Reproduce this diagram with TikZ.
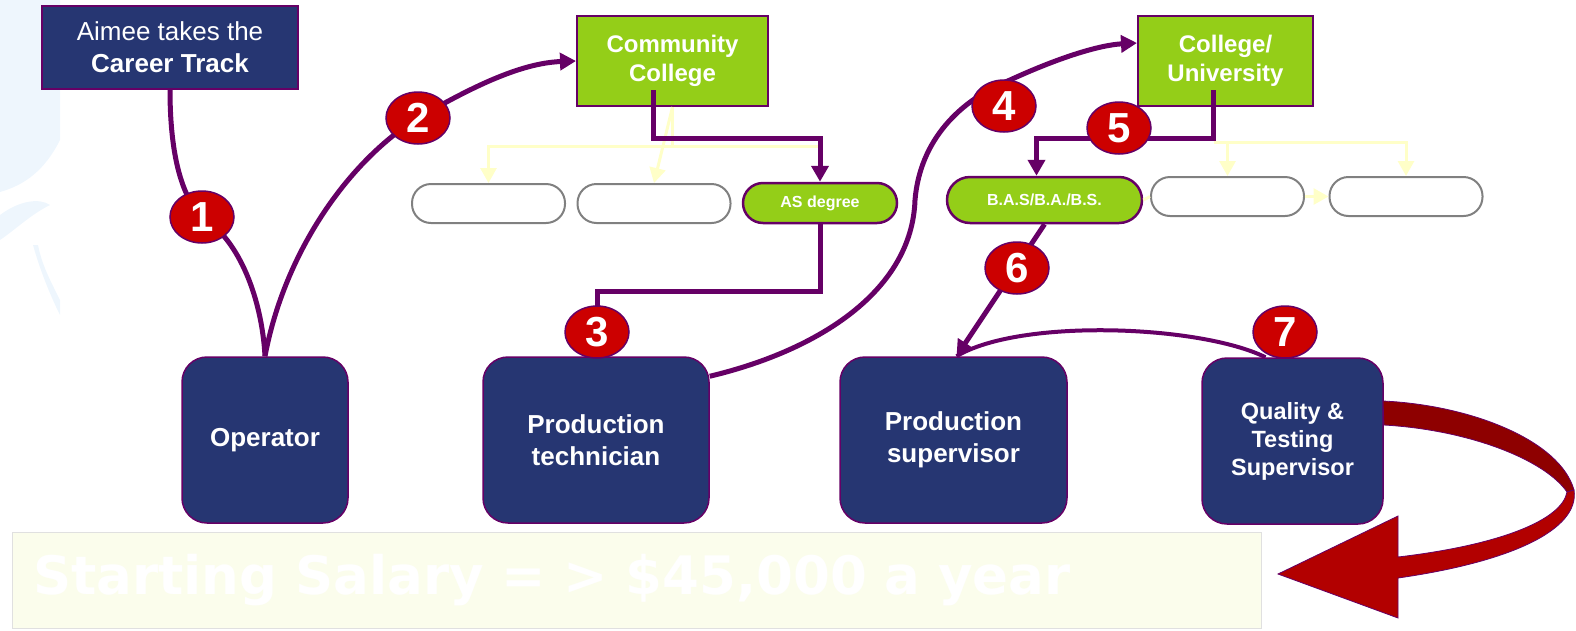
\documentclass[tikz,border=0pt]{standalone}
\usepackage{fontspec}
\setmainfont{Liberation Sans}
\newfontfamily\salaryfont{DejaVu Sans}
\usetikzlibrary{shapes.geometric,arrows.meta,calc}
\definecolor{navy}{HTML}{263672}
\definecolor{plum}{HTML}{660066}
\definecolor{lime}{HTML}{94CE18}
\definecolor{stepred}{HTML}{CC0000}
\definecolor{paleyellow}{HTML}{FFFFC8}
\definecolor{bannerfill}{HTML}{FBFDEC}
\definecolor{ribbondark}{HTML}{8E0000}
\definecolor{ribbonred}{HTML}{B20000}
\definecolor{mist}{HTML}{EEF6FD}
\tikzset{
  job/.style={draw=plum,line width=1.5pt,fill=navy,rounded corners=25pt,text=white,
    font=\bfseries\fontsize{26}{32}\selectfont,align=center,minimum height=166pt,inner sep=0pt},
  school/.style={draw=plum,line width=2pt,fill=lime,text=white,
    font=\bfseries\fontsize{24}{29}\selectfont,align=center,minimum height=90pt,inner sep=0pt},
  degree/.style={draw=plum,line width=2.5pt,fill=lime,rounded corners=20pt,text=white,
    font=\bfseries\fontsize{16}{18}\selectfont,inner sep=0pt},
  blank/.style={draw=gray,line width=2pt,fill=white,rounded corners=19pt,
    minimum width=153pt,minimum height=39pt,inner sep=0pt},
  num/.style={ellipse,draw=plum,line width=1.5pt,fill=stepred,text=white,
    font=\bfseries\fontsize{42}{42}\selectfont,minimum width=64pt,minimum height=52pt,inner sep=0pt},
  route/.style={draw=plum,line width=5pt},
  hint/.style={draw=paleyellow,line width=3pt},
  arrowhead/.style={-{Triangle[length=16pt,width=17pt]}},
  hinthead/.style={-{Triangle[length=15pt,width=16pt]}}
}

\begin{document}
\begin{tikzpicture}[x=1pt,y=-1pt]
  \useasboundingbox (0,0) rectangle (1576,630);
  \fill[mist] (0,0) -- (60,0) -- (60,140) .. controls (45,170) and (25,185) .. (0,192) -- cycle;
  \fill[mist] (0,215) .. controls (20,200) and (40,198) .. (50,205) .. controls (30,215) and (15,230) .. (0,240) -- cycle;
  \fill[mist] (33,245) .. controls (40,270) and (50,295) .. (60,315) -- (60,300) .. controls (50,280) and (42,265) .. (38,245) -- cycle;

  \node[draw=plum,line width=1.5pt,fill=navy,text=white,align=center,minimum width=256pt,minimum height=83pt,
    inner sep=0pt,font=\fontsize{26}{32}\selectfont] (track) at (170,47.5) {Aimee takes the\\\textbf{Career Track}};
  \node[school,minimum width=191pt] (cc) at (672.5,61) {Community\\College};
  \node[school,minimum width=175pt] (cu) at (1225.5,61) {College/\\University};

  \node[blank] (p1) at (488.5,203.5) {};
  \node[blank] (p2) at (654,203.5) {};
  \node[degree,minimum width=154pt,minimum height=40pt] (as) at (820,203) {AS degree};
  \node[degree,minimum width=195pt,minimum height=46pt,rounded corners=23pt] (bas) at (1044.5,200) {B.A.S/B.A./B.S.};
  \node[blank] (p3) at (1227.5,196.5) {};
  \node[blank] (p4) at (1406,196.5) {};

  \node[job,minimum width=166pt] (op) at (265,440) {Operator};
  \node[job,minimum width=226pt] (tech) at (596,440) {Production\\technician};
  \node[job,minimum width=227pt] (sup) at (953.5,440) {Production\\supervisor};
  \node[job,minimum width=181pt,font=\bfseries\fontsize{23.5}{28}\selectfont] (qa) at (1292.5,441) {Quality \&\\Testing\\Supervisor};

  \node[fill=bannerfill,draw=black!12,line width=1pt,minimum width=1249pt,minimum height=96pt,inner xsep=21pt,
    text width=1207pt,align=left,text=white,font=\salaryfont\bfseries\fontsize{53}{60}\selectfont] (salary) at (636.5,580)
    {Starting Salary = > \$45,000 a year};

  \draw[hint] (cc.south) -- ++(0,39) -- ++(145,0);
  \draw[hint,hinthead] (cc.south) ++(0,39) -| (p1.north);
  \draw[hint,hinthead] (cc.south) -- (p2.north);
  \draw[hint,hinthead] ([xshift=-12pt]cu.south) ++(0,35) -| (p3.north);
  \draw[hint,hinthead] ([xshift=-12pt]cu.south) ++(0,35) -| (p4.north);
  \draw[hint] (bas.east) -- (p3.west);
  \draw[hint,hinthead] (p3.east) -- (p4.west);

  \draw[route] (track.south) .. controls (170,150) and (180,195) .. (202,217)
    .. controls (240,240) and (262,300) .. (op.north);
  \draw[route,arrowhead] (op.north) .. controls (285,250) and (350,160) .. (418,118)
    .. controls (470,88) and (520,63) .. (cc.west);
  \draw[route,arrowhead] ([xshift=-19pt,yshift=17pt]cc.south) -- ++(0,48) -| (as.north);
  \draw[route] (as.south) -- ++(0,67) -| (597,332);
  \draw[route,arrowhead] ([yshift=-20pt]tech.north east) .. controls (820,350) and (912,290) .. (915,200)
    .. controls (920,140) and (960,100) .. (1010,80) .. controls (1060,57) and (1100,45) .. ([yshift=18pt]cu.west);
  \draw[route,arrowhead] ([xshift=-12pt,yshift=17pt]cu.south) -- ++(0,48) -| ([xshift=-8pt]bas.north);
  \draw[route,arrowhead] (bas.south) -- ([xshift=3pt]sup.north);
  \draw[route,line width=4pt] ([xshift=-27pt]qa.north) .. controls (1200,325) and (1020,318) .. ([xshift=3pt]sup.north);

  \node[num] (c1) at (202,217) {1};
  \node[num] (c2) at (418,118) {2};
  \node[num] (c3) at (597,332) {3};
  \node[num] (c4) at (1004,106) {4};
  \node[num] (c5) at (1119,128) {5};
  \node[num] (c6) at (1017,268) {6};
  \node[num] (c7) at (1285,332) {7};

  \filldraw[fill=ribbondark,draw=plum,line width=0.8pt] (1383,401) .. controls (1470,405) and (1560,440) .. (1574,490)
    -- (1567,492) .. controls (1545,460) and (1470,430) .. (1384,425) -- cycle;
  \filldraw[fill=ribbonred,draw=plum,line width=0.8pt] (1574,490) .. controls (1580,530) and (1510,562) .. (1398,578)
    -- (1398,618) -- (1278,574) -- (1398,516) -- (1398,557) .. controls (1500,545) and (1562,520) .. (1567,492) -- cycle;
\end{tikzpicture}
\end{document}
